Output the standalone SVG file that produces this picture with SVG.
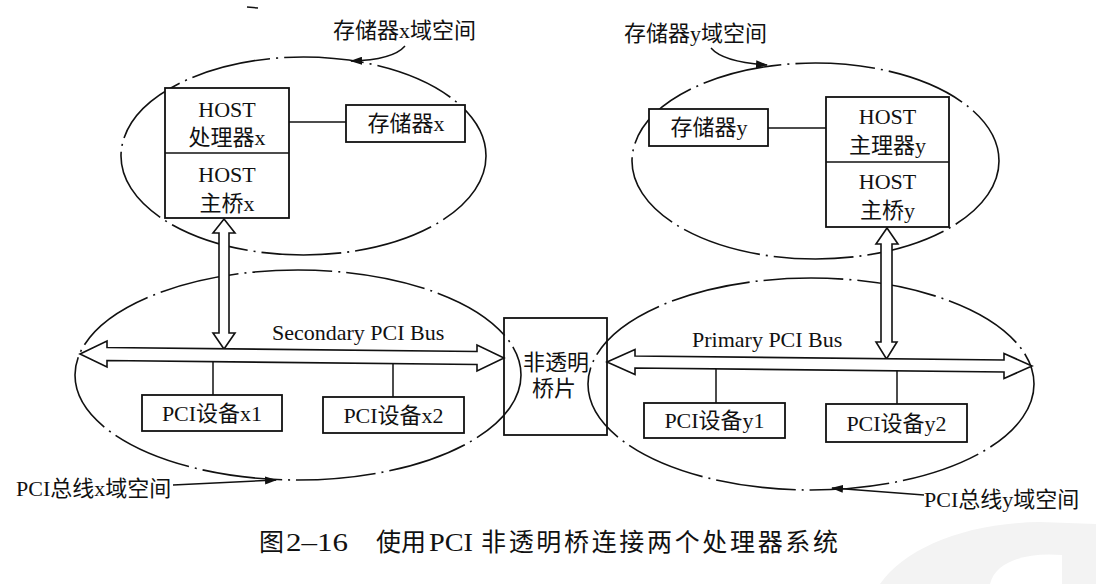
<svg xmlns="http://www.w3.org/2000/svg" width="1096" height="584" viewBox="0 0 1096 584">
<style>
text{font-family:"Liberation Serif","Noto Sans CJK SC",serif;font-size:22px;fill:#111}
text.cap{font-size:25px}
.c{text-anchor:middle}
.box{fill:#fff;stroke:#111;stroke-width:1.8}
.dom{fill:none;stroke:#111;stroke-width:1.6;stroke-dasharray:80 6 2 6}
.ln{fill:none;stroke:#111;stroke-width:1.5}
.fat{fill:#fff;stroke:#111;stroke-width:1.6;stroke-linejoin:miter}
</style>
<defs>
<marker id="ah" viewBox="0 0 12 8" refX="11" refY="4" markerWidth="12" markerHeight="8" markerUnits="userSpaceOnUse" orient="auto">
<path d="M0,0 L12,4 L0,8 Z" fill="#111"/>
</marker>
</defs>
<rect width="1096" height="584" fill="#fff"/>
<path d="M880,584 C905,548 965,523 1040,522 L1096,524 L1096,584 Z" fill="#f3f3f3"/>
<path d="M990,584 C995,562 1025,552 1062,555 L1062,584 Z" fill="#fff"/>
<path d="M247,7 L258,8" class="ln" stroke-width="1.2"/>

<g id="domains">
<ellipse id="dom-mem-x" class="dom" cx="303.5" cy="156" rx="182.5" ry="99"/>
<ellipse id="dom-mem-y" class="dom" cx="815.5" cy="161" rx="183.5" ry="98"/>
<ellipse id="dom-pci-x" class="dom" cx="298" cy="375" rx="223" ry="105"/>
<ellipse id="dom-pci-y" class="dom" cx="811" cy="384" rx="223" ry="106"/>
</g>

<g id="connectors">
<path class="ln" d="M289,122 L346,122"/>
<path class="ln" d="M768,128 L826,128"/>
<path class="ln" d="M213,361 L213,395"/>
<path class="ln" d="M393,363 L393,397"/>
<path class="ln" d="M716,368 L716,403"/>
<path class="ln" d="M897,371 L897,404"/>
<polygon id="host-x-link" class="fat" points="224,219 235,233 229,233 229,333 235,333 224,349 213,333 219,333 219,233 213,233"/>
<polygon id="host-y-link" class="fat" points="887,228 898,244 892,244 892,342 897,342 886.5,359 876,342 881,342 881,244 876,244"/>
<polygon id="secondary-bus" class="fat" points="80,354 107,341 107,347.5 477,351.5 477,345 504,358 477,371 477,364.5 107,360.5 107,367"/>
<polygon id="primary-bus" class="fat" points="607,362 635,349.5 635,356 1004,360 1004,353.5 1032,366 1004,378.5 1004,372 635,368 635,374.5"/>
<path class="ln" d="M405,46 Q393,60 351,61" marker-end="url(#ah)"/>
<path class="ln" d="M711,48 Q723,62 767,65" marker-end="url(#ah)"/>
<path class="ln" d="M173,485 L276,480" marker-end="url(#ah)"/>
<path class="ln" d="M924,495 L832,488" marker-end="url(#ah)"/>
</g>

<g id="host-x">
<rect class="box" x="165" y="88" width="124" height="130"/>
<path class="ln" d="M165,153 L289,153" stroke-width="1.8"/>
<text class="c" x="227" y="117">HOST</text>
<text class="c" x="227" y="145">处理器x</text>
<text class="c" x="227" y="182">HOST</text>
<text class="c" x="227" y="211">主桥x</text>
</g>
<g id="mem-x">
<rect class="box" x="346" y="105" width="119" height="37"/>
<text class="c" x="406" y="131">存储器x</text>
</g>
<g id="host-y">
<rect class="box" x="826" y="97" width="123" height="130"/>
<path class="ln" d="M826,162 L949,162" stroke-width="1.8"/>
<text class="c" x="887.5" y="124">HOST</text>
<text class="c" x="887.5" y="153">主理器y</text>
<text class="c" x="887.5" y="189">HOST</text>
<text class="c" x="887.5" y="218">主桥y</text>
</g>
<g id="mem-y">
<rect class="box" x="649" y="109" width="119" height="37"/>
<text class="c" x="709" y="135">存储器y</text>
</g>
<g id="pci-x1">
<rect class="box" x="142" y="395" width="140" height="36"/>
<text class="c" x="212" y="421">PCI设备x1</text>
</g>
<g id="pci-x2">
<rect class="box" x="323" y="397" width="141" height="36"/>
<text class="c" x="393.5" y="423">PCI设备x2</text>
</g>
<g id="pci-y1">
<rect class="box" x="644" y="403" width="141" height="35"/>
<text class="c" x="714.5" y="428">PCI设备y1</text>
</g>
<g id="pci-y2">
<rect class="box" x="826" y="404" width="141" height="38"/>
<text class="c" x="896.5" y="431">PCI设备y2</text>
</g>
<g id="ntb">
<rect x="504" y="318" width="103" height="117" fill="none" stroke="#111" stroke-width="1.8"/>
<text class="c" x="556" y="370">非透明</text>
<text class="c" x="554" y="396">桥片</text>
</g>

<g id="labels">
<text x="333" y="38">存储器x域空间</text>
<text x="624" y="41">存储器y域空间</text>
<text x="16" y="496">PCI总线x域空间</text>
<text x="924" y="507">PCI总线y域空间</text>
<text x="272" y="340">Secondary PCI Bus</text>
<text x="692" y="347">Primary PCI Bus</text>
</g>

<g id="caption">
<text class="cap" x="259" y="551">图</text>
<text class="cap" x="286" y="551" textLength="62" lengthAdjust="spacingAndGlyphs">2–16</text>
<text class="cap" x="376" y="551">使用</text>
<text class="cap" x="429" y="551" textLength="44" lengthAdjust="spacingAndGlyphs">PCI</text>
<text class="cap" x="481" y="551" textLength="357">非透明桥连接两个处理器系统</text>
</g>
</svg>
